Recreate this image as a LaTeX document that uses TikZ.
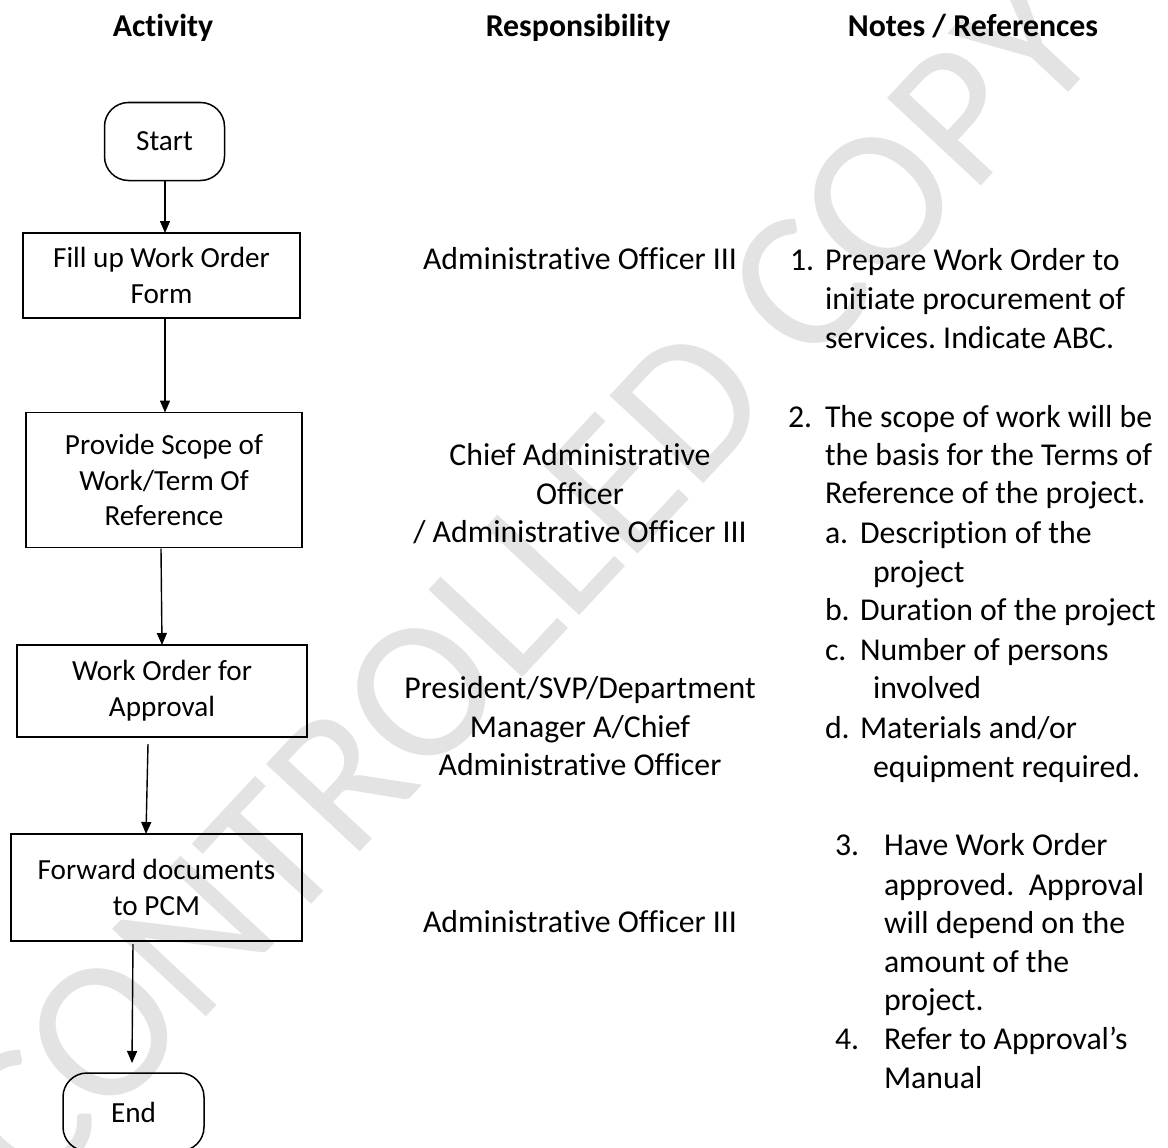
\documentclass[tikz,border=0pt]{standalone}
\usepackage{fontspec}
\setmainfont{Carlito}[Ligatures={NoCommon}]
\usetikzlibrary{arrows.meta,calc}
\newcommand{\boxfont}{\fontsize{29.2}{35.6}\selectfont}
\newcommand{\bodyfont}{\fontsize{31.8}{39}\selectfont}
\frenchspacing
\begin{document}
\begin{tikzpicture}[x=1pt,y=-1pt,
  every node/.style={inner sep=0pt,outer sep=0pt},
  flowbox/.style={draw,line width=1.5pt,align=center,font=\boxfont},
  terminal/.style={flowbox,rounded corners=24pt,minimum width=120pt,minimum height=78pt},
  flow/.style={line width=1.4pt,-{Triangle[length=12pt,width=10pt]}},
  colhead/.style={anchor=base,font=\bfseries\bodyfont},
  resp/.style={anchor=base,font=\bodyfont},
  note/.style={anchor=base west,font=\bodyfont},
  stamp/.style={font=\fontsize{200}{200}\selectfont,text=black!11,rotate=47}
]
\useasboundingbox (0,0) rectangle (1168,1148);

% background stamp
\node[stamp] (stamp) at (524,582) {CONTROLLED COPY};

% column headings
\node[colhead] (hAct) at (163,37) {Activity};
\node[colhead] (hResp) at (578,37) {Responsibility};
\node[colhead] (hNote) at (973,37) {Notes / References};

% flowchart
\node[terminal] (start) at (164.5,141.5) {Start};
\node[flowbox,minimum width=277pt,minimum height=85pt] (fill) at (161.5,275.5) {Fill up Work Order\\Form};
\node[flowbox,minimum width=276pt,minimum height=135pt] (scope) at (164,480) {Provide Scope of\\Work/Term Of\\Reference};
\node[flowbox,minimum width=290pt,minimum height=92pt] (approve) at (162,691) {Work Order for\\Approval};
\node[flowbox,minimum width=291pt,minimum height=107pt] (forward) at (156.5,887.5) {Forward documents\\to PCM};
\node[terminal,minimum width=141pt] (finish) at (133.5,1112) {End};

\draw[flow] ([xshift=0.5pt]start.south) -- ([xshift=3.5pt]fill.north);
\draw[flow] ([xshift=3.5pt]fill.south) -- ([xshift=1pt]scope.north);
\draw[flow] ([xshift=-3pt,yshift=-1pt]scope.south) -- ([xshift=0pt]approve.north);
\draw[flow] ([xshift=-14pt,yshift=-7pt]approve.south) -- ([xshift=-10.5pt]forward.north);
\draw[flow] ([xshift=-23.5pt,yshift=-3pt]forward.south) -- ([xshift=-1.5pt,yshift=10pt]finish.north);

% responsibility column
\node[resp] (r1) at (580,269) {Administrative Officer III};
\node[resp] (r2a) at (580,465) {Chief Administrative};
\node[resp] (r2b) at (580,504) {Officer};
\node[resp] (r2c) at (580,542) {/ Administrative Officer III};
\node[resp] (r3a) at (580,698) {President/SVP/Department};
\node[resp] (r3b) at (580,737) {Manager A/Chief};
\node[resp] (r3c) at (580,775) {Administrative Officer};
\node[resp] (r4) at (580,932) {Administrative Officer III};

% notes column
\node[note] (n1) at (790,270) {1.};
\node[note] (n1a) at (825,270) {Prepare Work Order to};
\node[note] (n1b) at (825,309) {initiate procurement of};
\node[note] (n1c) at (825,348) {services. Indicate ABC.};

\node[note] (n2) at (788,427) {2.};
\node[note] (n2a) at (825,427) {The scope of work will be};
\node[note] (n2b) at (825,465) {the basis for the Terms of};
\node[note] (n2c) at (825,503) {Reference of the project.};
\node[note] (na) at (825,543) {a.};
\node[note] (na1) at (860,543) {Description of the};
\node[note] (na2) at (873,582) {project};
\node[note] (nb) at (825,620) {b.};
\node[note] (nb1) at (860,620) {Duration of the project};
\node[note] (nc) at (825,660) {c.};
\node[note] (nc1) at (860,660) {Number of persons};
\node[note] (nc2) at (873,698) {involved};
\node[note] (nd) at (825,738) {d.};
\node[note] (nd1) at (860,738) {Materials and/or};
\node[note] (nd2) at (873,777) {equipment required.};

\node[note] (n3) at (835,855) {3.};
\node[note] (n3a) at (884,855) {Have Work Order};
\node[note] (n3b) at (884,895) {approved.\ \ Approval};
\node[note] (n3c) at (884,933) {will depend on the};
\node[note] (n3d) at (884,972) {amount of the};
\node[note] (n3e) at (884,1010) {project.};

\node[note] (n4) at (835,1049) {4.};
\node[note] (n4a) at (884,1049) {Refer to Approval’s};
\node[note] (n4b) at (884,1088) {Manual};
\end{tikzpicture}
\end{document}
